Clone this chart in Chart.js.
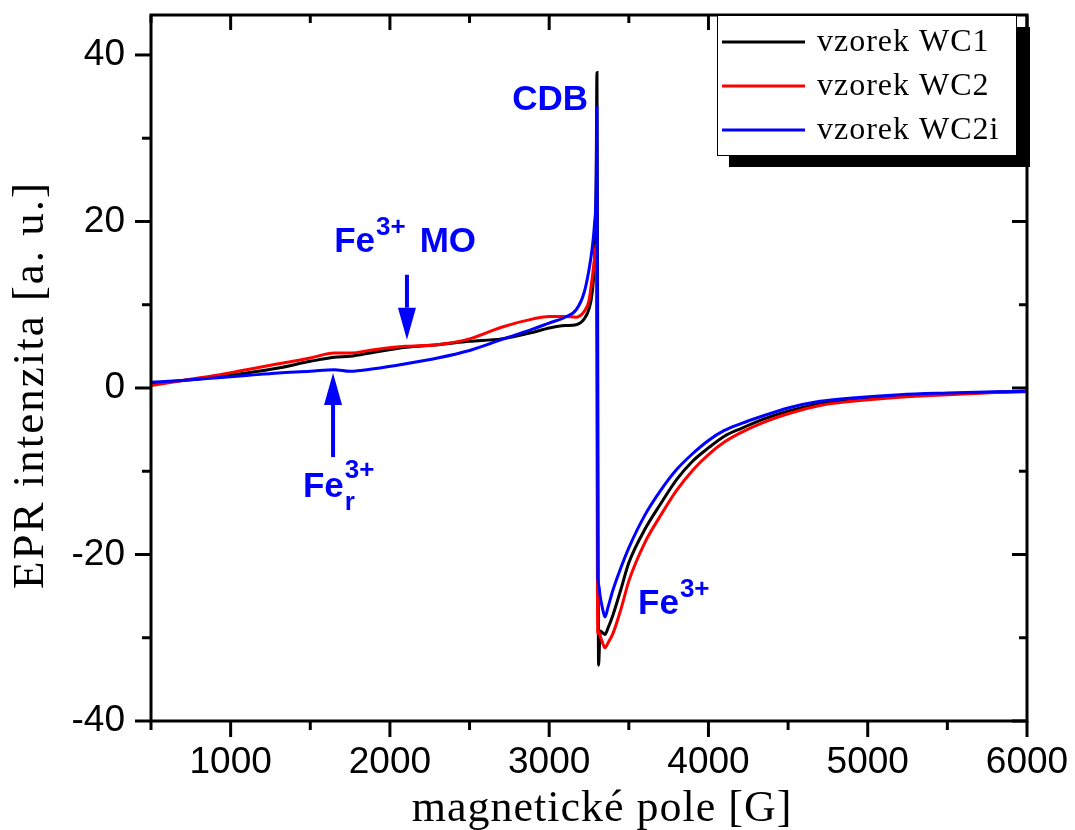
<!DOCTYPE html>
<html>
<head>
<meta charset="utf-8">
<script src="https://cdn.jsdelivr.net/npm/chart.js@4.4.1/dist/chart.umd.min.js"></script>
<style>
  html, body { margin: 0; padding: 0; background: #fff; }
</style>
</head>
<body>
<canvas id="eprChart" width="1075" height="830"></canvas>
<script>
"use strict";

// magnetic field [G]
const fieldG = [500, 700, 900, 1100, 1300, 1500, 1650, 1750, 1900, 2100, 2300, 2500,
  2700, 2900, 3000, 3100, 3170, 3220, 3250, 3270, 3285, 3295, 3300, 3305,
  3310, 3320, 3335, 3350, 3370, 3400, 3450, 3500, 3600, 3700, 3800, 3900,
  4000, 4100, 4200, 4350, 4500, 4700, 4900, 5200, 5500, 5800, 6000];

// EPR intensity [a. u.]
const wc1 = [0.6, 0.9, 1.3, 1.8, 2.4, 3.2, 3.7, 3.8, 4.3, 4.9, 5.2, 5.6,
  5.9, 6.7, 7.2, 7.5, 7.6, 8.3, 9.5, 11.5, 15.7, 25, 37.9, 2,
  -33.3, -29.2, -29.4, -29.6, -28.8, -27.3, -24.2, -21, -17, -13.9, -11, -8.8,
  -7.2, -5.8, -4.9, -3.7, -2.8, -1.9, -1.5, -1.0, -0.7, -0.5, -0.4];
const wc2 = [0.3, 0.9, 1.5, 2.2, 2.9, 3.6, 4.2, 4.2, 4.6, 5.0, 5.2, 5.9,
  7.3, 8.3, 8.6, 8.6, 8.5, 9.2, 10.5, 13.2, 15.6, 17.2, -5, -29.5,
  -29.2, -29.8, -30.6, -31.2, -30.6, -29.5, -26.6, -23.2, -18.6, -15.3, -12.3, -9.9,
  -8.0, -6.5, -5.4, -4.1, -3.1, -2.1, -1.6, -1.1, -0.8, -0.55, -0.45];
const wc2i = [0.7, 0.9, 1.2, 1.5, 1.8, 2.0, 2.2, 2.0, 2.3, 2.9, 3.6, 4.5,
  5.8, 7.1, 7.8, 8.5, 9.4, 11.5, 14.2, 16.8, 19.8, 24, 33.7, -22.7,
  -23.6, -25, -26.5, -27.5, -26.3, -24.3, -21.6, -19.2, -15.3, -12.3, -9.8, -7.9,
  -6.3, -5.1, -4.3, -3.3, -2.4, -1.6, -1.2, -0.8, -0.6, -0.45, -0.4];

const seriesNames = ["vzorek WC1", "vzorek WC2", "vzorek WC2i"];
const seriesColors = ["#000000", "#ff0000", "#0000ff"];

const xMajorTicks = [1000, 2000, 3000, 4000, 5000, 6000];
const xMinorTicks = [500, 1500, 2500, 3500, 4500, 5500];
const yMajorTicks = [-40, -20, 0, 20, 40];
const yMinorTicks = [-30, -10, 10, 30];

const BLUE = "#0000ff";
const tickFont = { family: "'Liberation Sans', Arial, sans-serif", size: 37 };

function toPoints(values) {
  return values.map((v, i) => ({ x: fieldG[i], y: v }));
}

// draws a run of text parts; each part may be raised (superscript) or lowered
function drawParts(ctx, x, y, parts) {
  let cx = x;
  parts.forEach((p) => {
    ctx.font = "bold " + p.size + "px 'Liberation Sans', Arial, sans-serif";
    ctx.fillText(p.t, cx, y + (p.dy || 0));
    cx += ctx.measureText(p.t).width + (p.gap || 0);
  });
}

function arrow(ctx, px, fromY, tipY) {
  const dir = tipY > fromY ? 1 : -1;
  const headLen = 32;
  ctx.beginPath();
  ctx.lineWidth = 4;
  ctx.moveTo(px, fromY);
  ctx.lineTo(px, tipY - dir * headLen);
  ctx.stroke();
  ctx.beginPath();
  ctx.moveTo(px, tipY);
  ctx.lineTo(px - 9, tipY - dir * headLen);
  ctx.lineTo(px + 9, tipY - dir * headLen);
  ctx.closePath();
  ctx.fill();
}

// no extra room for the edge labels, the frame is placed by layout padding
function fixBox(scale) {
  scale.paddingLeft = 0;
  scale.paddingRight = 0;
  scale.paddingTop = 0;
  scale.paddingBottom = 0;
}

const framePlugin = {
  id: "frame",
  afterDraw(chart) {
    const { ctx, chartArea: a } = chart;
    const xs = chart.scales.x;
    const ys = chart.scales.y;
    ctx.save();
    ctx.strokeStyle = "#000";
    ctx.lineWidth = 3;
    ctx.lineCap = "butt";

    const seg = (x1, y1, x2, y2) => {
      ctx.beginPath();
      ctx.moveTo(x1, y1);
      ctx.lineTo(x2, y2);
      ctx.stroke();
    };

    // tick marks: outward on bottom/left, inward on top/right
    xMajorTicks.forEach((v) => {
      const px = xs.getPixelForValue(v);
      seg(px, a.bottom, px, a.bottom + 16);
      seg(px, a.top, px, a.top + 15);
    });
    xMinorTicks.forEach((v) => {
      const px = xs.getPixelForValue(v);
      seg(px, a.bottom, px, a.bottom + 9);
      seg(px, a.top, px, a.top + 8);
    });
    yMajorTicks.forEach((v) => {
      const py = ys.getPixelForValue(v);
      seg(a.left - 16, py, a.left, py);
      seg(a.right - 15, py, a.right, py);
    });
    yMinorTicks.forEach((v) => {
      const py = ys.getPixelForValue(v);
      seg(a.left - 9, py, a.left, py);
      seg(a.right - 8, py, a.right, py);
    });

    ctx.strokeRect(a.left, a.top, a.right - a.left, a.bottom - a.top);

    // legend with shadow
    const lx = 717, ly = a.top, lw = 299, lh = 140;
    ctx.fillStyle = "#000";
    ctx.fillRect(lx + 12, ly + 12, lw + 2, lh);
    ctx.fillStyle = "#fff";
    ctx.fillRect(lx, ly, lw, lh);
    ctx.lineWidth = 1;
    ctx.strokeRect(lx + 0.5, ly + 0.5, lw, lh);
    ctx.font = "32px 'Liberation Serif', 'Times New Roman', serif";
    ctx.letterSpacing = "1px";
    ctx.textBaseline = "middle";
    ctx.textAlign = "left";
    chart.data.datasets.slice().sort((p, q) => p.legendIndex - q.legendIndex).forEach((ds, i) => {
      const rowY = ly + 27 + i * 44;
      ctx.strokeStyle = ds.borderColor;
      ctx.lineWidth = 3;
      seg(lx + 5, rowY, lx + 88, rowY);
      ctx.fillStyle = "#000";
      ctx.fillText(ds.label, lx + 100, rowY + 1);
    });

    // annotations
    ctx.letterSpacing = "0px";
    ctx.fillStyle = BLUE;
    ctx.strokeStyle = BLUE;
    ctx.textBaseline = "alphabetic";
    ctx.textAlign = "right";
    ctx.font = "bold 35px 'Liberation Sans', Arial, sans-serif";
    ctx.fillText("CDB", xs.getPixelForValue(3244), ys.getPixelForValue(33.4));
    ctx.textAlign = "left";

    drawParts(ctx, xs.getPixelForValue(1650), ys.getPixelForValue(16.3), [
      { t: "Fe", size: 35, gap: 1 },
      { t: "3+", size: 26, dy: -17, gap: 14 },
      { t: "MO", size: 35 },
    ]);
    arrow(ctx, xs.getPixelForValue(2107), ys.getPixelForValue(13.6), ys.getPixelForValue(5.8));
    arrow(ctx, xs.getPixelForValue(1643), ys.getPixelForValue(-8.3), ys.getPixelForValue(1.8));

    const frX = xs.getPixelForValue(1454);
    const frY = ys.getPixelForValue(-13.1);
    drawParts(ctx, frX, frY, [{ t: "Fe", size: 35 }]);
    ctx.font = "bold 35px 'Liberation Sans', Arial, sans-serif";
    const feW = ctx.measureText("Fe").width;
    drawParts(ctx, frX + feW + 1, frY + 13, [{ t: "r", size: 26 }]);
    drawParts(ctx, frX + feW + 1, frY - 19, [{ t: "3+", size: 26 }]);

    drawParts(ctx, xs.getPixelForValue(3558), ys.getPixelForValue(-27.2), [
      { t: "Fe", size: 35, gap: 1 },
      { t: "3+", size: 26, dy: -17 },
    ]);

    // axis titles
    ctx.fillStyle = "#000";
    ctx.font = "44px 'Liberation Serif', 'Times New Roman', serif";
    ctx.letterSpacing = "1px";
    ctx.textAlign = "center";
    ctx.textBaseline = "alphabetic";
    ctx.fillText("magnetické pole [G]", 602, 821);

    ctx.save();
    ctx.translate(43, 385);
    ctx.rotate(-Math.PI / 2);
    ctx.font = "45px 'Liberation Serif', 'Times New Roman', serif";
    ctx.letterSpacing = "2px";
    ctx.fillText("EPR intenzita [a. u.]", 0, 0);
    ctx.restore();

    ctx.restore();
  },
};

const ctx = document.getElementById("eprChart");

new Chart(ctx, {
  type: "line",
  data: {
    datasets: [
      { label: seriesNames[0], data: toPoints(wc1), borderColor: seriesColors[0], order: 2, legendIndex: 0 },
      { label: seriesNames[1], data: toPoints(wc2), borderColor: seriesColors[1], order: 1, legendIndex: 1 },
      { label: seriesNames[2], data: toPoints(wc2i), borderColor: seriesColors[2], order: 0, legendIndex: 2 },
    ].map((ds) => Object.assign(ds, {
      borderWidth: 3,
      pointRadius: 0,
      fill: false,
      cubicInterpolationMode: "monotone",
    })),
  },
  options: {
    responsive: false,
    devicePixelRatio: 1,
    animation: false,
    layout: { padding: { top: 15, right: 48, left: 0, bottom: 0 } },
    plugins: { legend: { display: false }, tooltip: { enabled: false } },
    scales: {
      x: {
        type: "linear",
        min: 500,
        max: 6000,
        afterBuildTicks: (scale) => { scale.ticks = xMajorTicks.map((v) => ({ value: v })); },
        afterFit: (scale) => { scale.height = 109; fixBox(scale); },
        grid: { display: false, drawTicks: false },
        border: { display: false },
        ticks: {
          font: tickFont, color: "#000", padding: 20, maxRotation: 0, autoSkip: false,
          callback: (v) => String(v),
        },
      },
      y: {
        type: "linear",
        min: -40,
        max: 44.8,
        afterBuildTicks: (scale) => { scale.ticks = yMajorTicks.map((v) => ({ value: v })); },
        afterFit: (scale) => { scale.width = 151; fixBox(scale); },
        grid: { display: false, drawTicks: false },
        border: { display: false },
        ticks: { font: tickFont, color: "#000", padding: 26, callback: (v) => String(v) },
      },
    },
  },
  plugins: [framePlugin],
});
</script>
</body>
</html>
